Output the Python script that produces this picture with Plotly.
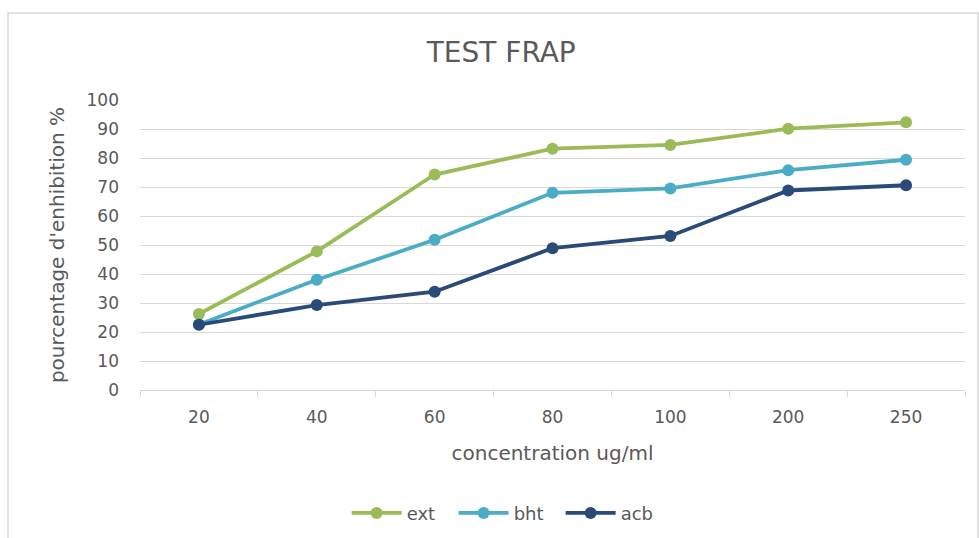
import plotly.graph_objects as go

categories = ["20", "40", "60", "80", "100", "200", "250"]
ext = [26.2, 47.8, 74.3, 83.2, 84.5, 90.1, 92.3]
bht = [22.6, 38.0, 51.8, 68.0, 69.5, 75.8, 79.4]
acb = [22.5, 29.3, 33.9, 48.9, 53.1, 68.8, 70.6]

series = [("ext", ext, "#9BBB59"), ("bht", bht, "#4BACC6"), ("acb", acb, "#2A4A78")]

fig = go.Figure()
for name, vals, col in series:
    fig.add_trace(go.Scatter(
        x=categories, y=vals, name=name, mode="lines+markers",
        line=dict(color=col, width=3.8),
        marker=dict(color=col, size=12),
    ))

grey = "#595959"
fam = "DejaVu Sans, sans-serif"
fig.update_layout(
    width=979, height=538,
    margin=dict(l=140, r=14, t=100, b=148, autoexpand=False),
    paper_bgcolor="white", plot_bgcolor="white",
    font=dict(family=fam, color=grey, size=17),
    title=dict(text="TEST FRAP", x=0.512, xanchor="center", y=0.903, yanchor="middle",
               font=dict(size=28, color=grey)),
    showlegend=True,
    legend=dict(orientation="h", x=0.445, xref="paper", xanchor="center",
                y=-0.425, yanchor="middle", font=dict(size=18, color=grey),
                entrywidth=42, entrywidthmode="pixels", itemwidth=50),
    xaxis=dict(type="category", range=[-0.5, len(categories) - 0.5],
               showgrid=False, showline=True, linecolor="#d9d9d9",
               linewidth=1, ticks="outside", tickson="boundaries", ticklen=6,
               tickcolor="#d9d9d9", tickfont=dict(size=17, color=grey),
               ticklabelstandoff=12, automargin=False,
               title=dict(text="concentration ug/ml", font=dict(size=20, color=grey), standoff=19)),
    yaxis=dict(range=[0, 100], dtick=10, showgrid=True, gridcolor="#d9d9d9", gridwidth=1,
               zeroline=False, showline=False, tickfont=dict(size=17, color=grey),
               ticklabelstandoff=20, automargin=False,
               title=dict(text="pourcentage d'enhibition %", font=dict(size=20, color=grey), standoff=16)),
    shapes=[dict(type="rect", xref="paper", yref="paper",
                 x0=(8 - 140) / 825, x1=(978 - 140) / 825,
                 y0=(390 - 545) / 290, y1=(390 - 13) / 290,
                 line=dict(color="#d9d9d9", width=1.5), layer="below")],
)

fig.write_html("out.html")
